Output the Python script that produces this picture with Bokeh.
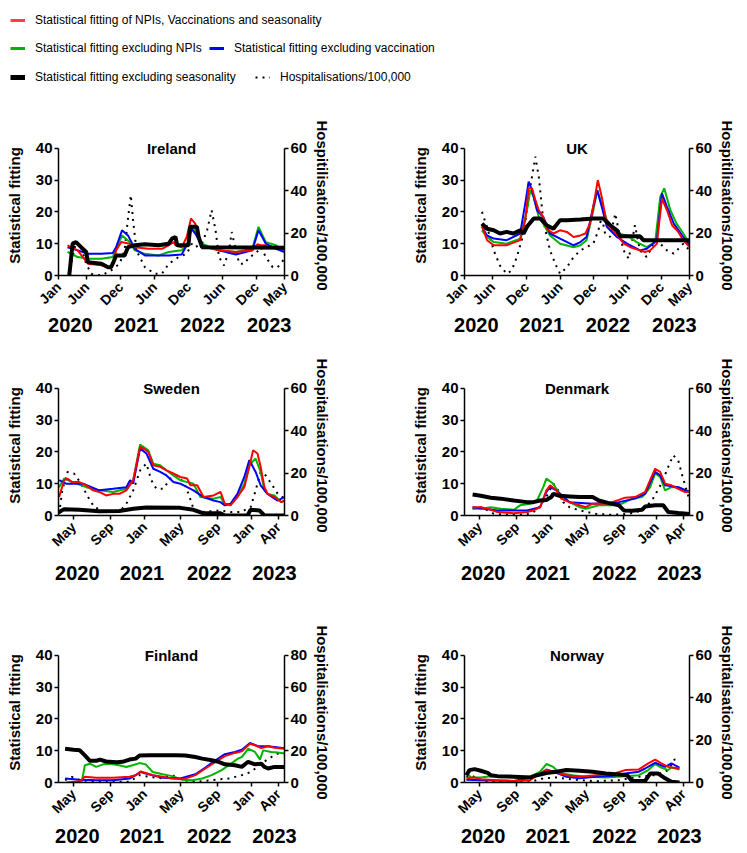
import math
from bokeh.plotting import figure
from bokeh.models import Range1d, LinearAxis, FixedTicker, Label, Legend, LegendItem
from bokeh.layouts import column, row
from bokeh.embed import file_html
from bokeh.resources import INLINE

FONT = "Liberation Sans"

# ---------------- data (x in months since Jan 2020) ----------------
# Ireland
irl_all_x = [1.6,3.4,5.2,7.6,8.75,9.6,10.2,11.1,12.6,13.5,15.9,18.3,19.5,20.4,20.7,21.8,22.7,23.45,24.2,25.1,26.0,28.4,31.4,34.3,35.2,35.8,36.7,37.3,40]
irl_all_y = [9.5,7.9,3.7,3.2,2.6,3.2,7.9,10.5,10.0,8.9,8.4,8.4,9.5,10.5,9.5,8.9,12.1,17.9,16.3,10.0,8.9,7.9,7.4,7.9,9.8,9.5,9.5,8.9,8.4]
irl_nonpi_x = [1.6,3.4,5.2,7.6,9.6,10.2,11.25,12.6,13.5,15.3,17.7,19.5,21.8,23.0,23.5,24.2,25.4,28.4,31.4,34.3,35.4,36.7,38.5,40]
irl_nonpi_y = [7.4,5.8,5.3,5.3,5.8,8.4,12.6,10.5,7.9,6.8,6.3,7.4,7.9,10.5,15.8,13.7,10.0,7.9,7.4,8.4,15.3,10.5,9.5,7.9]
irl_novac_x = [1.6,3.4,5.2,7.6,9.6,10.2,11.25,12.3,13.5,15.3,19.5,21.8,23.0,23.5,24.2,25.4,28.4,31.4,34.3,35.4,36.7,38.5,40]
irl_novac_y = [8.9,7.9,6.8,6.8,7.1,8.9,14.2,12.6,8.4,6.3,6.3,6.6,10.5,14.7,13.2,9.5,7.9,6.6,7.9,14.2,10.0,8.4,7.4]
irl_noseas_x = [1.9,2.5,3.1,4.0,4.9,5.2,7.6,8.75,9.3,9.6,10.2,11.7,12.3,13.5,15.3,17.7,19.5,20.1,20.7,21.0,23.0,23.3,24.5,24.8,25.4,40]
irl_noseas_y = [0,10,10.5,8.9,7.4,4.2,3.7,2.6,2.6,3.7,6.3,6.3,8.9,9.5,9.8,9.5,10,11.6,12.1,9.5,9.5,15.3,15.3,12.1,8.9,8.7]
irl_hosp_x = [1.9,2.5,3.1,4.0,4.9,5.8,7.6,9.3,10.8,11.7,12.2,12.8,13.2,13.8,15.3,17.1,18.3,19.5,21.25,22.7,23.6,24.2,25.4,26.3,27.1,27.8,28.4,29.3,30.2,30.65,31.4,32.0,32.9,33.75,34.9,35.8,36.7,37.9,38.8,40]
irl_hosp_y = [0,8.7,15.8,13.4,5.5,0.8,0,2.4,5.5,11.8,24.5,37.9,26,11.8,3.9,0.8,0.8,5.5,8.7,10.3,15,13.4,15,21.3,30.8,21.3,8.7,4.7,11.8,20.5,11.8,5.5,5.5,8.7,10.3,13.4,8.7,3.9,3.9,7.9]

# UK
uk_all_x = [3.1,4.0,5.2,7.5,9.9,10.8,11.4,12.0,12.6,13.2,14.0,14.6,15.8,17.0,18.2,19.4,20.6,21.5,22.3,23.2,23.7,24.4,25.3,26.5,27.4,28.3,29.5,31.2,32.1,33.0,34.2,35.1,36.0,36.9,38.0,38.9,40]
uk_all_y = [15.8,11.1,9.5,9.5,11.1,17.4,27.4,27.4,23.7,20.5,18.4,14.7,13.2,14.2,13.7,12.1,12.6,13.2,16.3,24.7,30.0,24.7,16.3,14.2,12.1,10.0,8.9,7.9,7.4,7.9,10.0,24.2,20.5,15.8,13.7,11.1,8.9]
uk_nonpi_x = [3.1,4.0,5.2,7.5,9.9,11.1,11.7,12.3,13.2,14.0,15.2,17.0,19.4,20.6,21.7,22.9,23.6,24.4,25.3,27.1,28.9,30.6,32.4,33.9,34.8,35.5,36.6,37.7,38.9,40]
uk_nonpi_y = [14.2,12.1,10.5,10.0,11.6,20.5,26.8,24.7,18.4,16.3,12.6,10.0,8.9,9.5,11.1,20.5,26.8,22.6,17.4,13.2,12.6,10.5,8.9,10.5,24.7,27.4,20.5,16.3,13.2,10.0]
uk_novac_x = [3.1,4.0,5.2,7.5,9.9,10.8,11.4,12.0,12.9,14.0,15.2,17.0,19.4,20.6,21.7,22.9,23.6,24.4,25.3,27.1,28.9,31.2,32.4,34.2,35.1,36.0,37.2,38.9,40]
uk_novac_y = [15.3,12.6,11.6,11.1,13.2,22.6,29.5,26.8,20.5,18.4,13.2,11.6,9.5,10.5,12.1,21.6,26.8,21.6,15.3,12.1,10.0,7.9,8.4,11.1,25.8,21.6,16.3,12.1,9.5]
uk_noseas_x = [3.1,4.0,5.2,6.3,7.5,8.7,9.9,10.5,11.1,12.3,13.5,14.6,15.8,17.0,18.2,20.6,22.9,24.7,25.9,27.1,27.7,31.2,31.8,40]
uk_noseas_y = [16.3,14.7,14.2,13.2,13.7,13.2,14.2,13.2,15.3,17.9,17.9,15.8,14.7,17.4,17.4,17.6,17.9,17.9,15.8,14.2,12.3,12.3,11.1,11.1]
uk_hosp_x = [3.1,4.0,5.2,6.3,7.5,8.4,9.3,10.5,11.7,12.6,13.2,14.0,15.2,16.4,17.0,18.2,19.4,20.6,21.7,22.9,23.8,24.4,25.0,25.9,26.8,27.4,28.3,29.2,30.3,31.2,32.4,33.9,34.8,36.0,37.2,38.9,40]
uk_hosp_y = [30.0,22.9,11.8,4.7,0.8,2.4,8.7,19.7,41.8,56.0,46.6,26.0,11.8,3.9,0.8,3.9,8.7,11.8,13.4,15.0,21.3,27.6,19.7,18.2,29.2,21.3,11.8,7.9,23.7,11.8,8.7,16.6,15.0,11.8,10.3,15.0,11.8]

# Sweden
swe_all_x = [3.1,3.9,4.4,5.2,6.3,7.4,8.5,9.5,10.6,11.7,12.7,13.8,14.9,16.0,16.5,17.3,18.1,19.2,20.2,21.3,22.4,23.5,24.0,25.1,26.1,27.7,28.8,29.5,30.4,31.5,32.6,33.4,34.0,34.7,35.2,35.8,36.3,37.4,38.5,39.0]
swe_all_y = [5.8,11.1,11.6,10.5,10.5,9.5,7.9,7.4,6.3,6.8,6.8,7.9,11.1,21.6,21.1,20.0,15.8,15.3,14.2,13.2,12.1,11.6,9.5,9.5,5.8,6.3,7.4,3.7,3.2,5.8,8.9,15.3,20.5,19.5,15.3,8.9,6.8,5.8,4.2,4.7]
swe_nonpi_x = [3.1,3.9,5.2,7.4,9.5,11.7,13.8,14.9,16.0,17.3,18.1,19.2,20.2,21.3,22.4,23.5,24.5,25.6,27.7,28.8,29.5,30.4,31.5,32.6,33.4,34.4,35.2,35.8,36.3,37.4,38.5,39.0]
swe_nonpi_y = [8.9,11.6,10.5,8.9,7.9,7.4,8.4,11.1,22.3,20.5,16.3,15.8,14.2,12.6,11.1,10.5,10.0,5.8,5.3,5.8,3.5,3.5,5.8,10.0,15.8,17.9,13.7,7.9,6.8,6.3,4.2,4.7]
swe_novac_x = [3.1,4.2,6.9,9.5,11.7,13.8,14.4,14.9,16.0,17.0,18.1,19.2,20.2,21.3,22.4,23.5,24.5,26.1,27.7,28.8,29.5,30.4,31.5,32.6,33.4,34.4,35.2,36.3,37.9,39.0]
swe_novac_y = [11.1,10.0,10.0,7.9,8.4,8.9,11.1,10.0,21.1,19.5,14.7,13.7,12.6,10.5,10.0,8.9,7.9,5.8,4.7,4.2,3.2,3.7,6.8,12.1,17.4,13.7,9.5,6.8,4.7,5.8]
swe_noseas_x = [3.1,3.9,6.3,9.5,12.7,14.9,17.0,22.4,24.5,26.1,28.8,29.5,33.1,33.6,35.0,35.8,39.0]
swe_noseas_y = [1.1,2.0,1.8,1.3,1.4,2.1,2.5,2.4,1.8,0.7,0.7,0,0,1.8,1.6,0,0]
swe_hosp_x = [3.1,3.6,4.4,5.5,6.6,7.7,8.7,10.6,12.7,13.8,14.9,16.0,17.0,17.8,18.6,19.7,20.8,21.9,22.9,23.7,24.5,25.6,28.8,30.4,32.0,33.6,34.4,35.2,36.0,36.9,37.9,39.0]
swe_hosp_y = [0.8,11.8,20.5,19.7,15.0,8.7,3.9,1.6,1.6,5.5,11.8,21.3,24.5,16.6,12.6,12.6,17.4,18.9,15.8,10.3,3.2,1.6,2.4,1.6,1.6,3.9,11.8,20.5,18.9,15.0,10.3,7.9]

# Denmark
den_all_x = [4.3,5.6,6.7,8.3,10.9,13.0,14.0,15.1,16.1,16.7,17.7,18.5,19.8,21.4,22.4,23.5,25.6,26.6,27.7,28.7,30.3,31.9,32.7,33.5,34.3,35.1,36.1,37.2,38.2,39.0]
den_all_y = [2.6,2.6,2.1,1.1,0.7,1.1,1.6,2.6,7.9,9.5,7.9,5.3,4.2,3.2,2.6,3.7,3.7,4.2,4.9,5.6,5.8,7.4,11.1,14.7,13.7,10.0,9.5,8.4,7.4,7.4]
den_nonpi_x = [4.3,5.6,7.2,8.8,10.9,11.9,13.5,14.6,15.6,16.1,17.2,17.7,18.5,19.8,21.4,22.4,24.5,26.6,28.2,29.8,31.4,31.9,32.7,33.5,34.3,35.1,36.1,37.2,39.0]
den_nonpi_y = [2.1,2.1,2.6,2.1,1.8,3.2,3.7,4.7,8.9,11.6,10.0,8.4,5.3,4.2,2.6,2.1,3.2,3.2,3.7,5.3,5.8,6.8,8.9,13.2,12.1,7.9,8.9,8.9,7.4]
den_novac_x = [4.3,8.3,13.0,15.1,16.1,16.7,17.7,19.8,23.5,27.7,30.3,31.9,33.5,34.3,35.1,37.2,39.0]
den_novac_y = [2.6,1.6,1.6,2.6,7.4,8.9,7.9,4.2,3.7,4.2,5.3,6.8,13.7,12.6,9.5,8.9,7.4]
den_noseas_x = [4.3,5.6,7.2,8.8,10.9,13.0,14.0,15.1,16.1,16.9,17.2,18.2,19.8,21.4,23.5,24.5,26.1,27.7,28.5,29.8,31.4,31.9,33.5,34.8,35.6,37.2,39.0]
den_noseas_y = [6.6,6.2,5.6,5.3,4.7,4.2,4.2,4.7,4.9,5.8,6.8,6.2,6.0,5.8,5.8,4.7,3.9,3.2,1.6,1.5,1.8,2.8,3.2,3.2,1.1,0.8,0.5]
den_hosp_x = [4.3,5.6,6.7,7.7,9.8,13.0,14.6,16.1,17.2,18.0,18.8,19.8,21.4,24.0,26.6,29.3,31.4,33.0,34.5,35.6,36.4,37.2,37.9,38.7,39.0]
den_hosp_y = [3.2,3.9,2.4,0.8,0.3,0.5,2.4,8.7,15.0,11.8,6.3,3.9,2.4,0.8,0.3,0.8,2.4,7.1,15.0,22.9,28.4,26.0,18.2,10.3,7.1]

# Finland
fin_all_x = [4.3,6.4,7.2,9.0,11.7,14.3,15.3,16.1,16.9,18.0,19.6,21.1,22.7,23.8,24.8,26.4,28.0,29.5,31.1,32.2,33.5,34.3,35.3,36.4,37.4,39.0]
fin_all_y = [0,0.4,1.8,1.5,1.5,1.8,2.3,3.5,3.0,2.3,1.8,1.25,1.0,1.6,2.3,4.4,6.5,8.3,9.3,9.8,12.2,11.7,10.8,11.4,10.9,10.6]
fin_nonpi_x = [6.7,7.2,8.0,9.0,10.1,11.1,12.7,13.8,14.8,15.9,16.9,18.0,19.6,21.1,22.7,24.3,25.9,27.4,29.0,30.6,31.6,32.2,33.2,34.3,35.1,35.6,36.9,37.9,39.0]
fin_nonpi_y = [0.2,5.4,5.9,4.9,5.7,5.9,5.4,4.9,5.4,6.1,5.7,3.3,2.6,2.0,0.9,0.7,1.25,2.3,3.9,6.1,7.5,8.0,10.6,9.6,7.2,10.1,9.6,9.4,9.1]
fin_novac_x = [4.05,6.4,9.0,11.7,14.3,15.3,16.1,16.9,19.6,22.4,24.8,26.4,28.0,29.5,31.1,32.2,33.5,34.8,36.4,39.0]
fin_novac_y = [1.25,0.9,0.7,0.7,1.25,2.3,3.3,2.8,1.5,1.25,2.6,4.7,7.0,8.9,9.6,10.3,12.4,11.4,11.4,10.8]
fin_noseas_x = [4.05,5.4,6.4,7.2,8.0,9.0,9.6,10.6,12.2,13.2,14.3,15.3,15.9,17.5,19.6,21.7,23.2,24.8,25.9,27.4,28.5,29.5,31.1,32.2,33.2,34.3,35.3,35.8,36.4,37.4,39.0]
fin_noseas_y = [10.6,10.3,10.1,8.5,6.8,6.8,7.2,6.6,6.4,6.5,7.2,7.5,8.5,8.6,8.6,8.6,8.5,8.0,7.5,7.0,6.5,5.7,5.4,4.9,6.5,5.7,5.9,4.9,4.4,4.9,4.9]
fin_hosp_x = [4.05,5.1,6.4,9.0,14.3,15.9,17.5,19.6,21.1,22.7,24.8,27.4,30.1,32.2,33.7,35.3,36.9,37.9,39.0]
fin_hosp_y = [1.5,3.5,1.5,0.4,0.4,4.6,3.5,2.5,4.6,1.5,0.4,1.5,2.5,4.6,6.7,11.9,16.0,18.1,18.5]

# Norway
nor_all_x = [3.3,4.6,5.6,8.3,10.9,13.5,14.6,16.1,17.2,19.3,21.4,24.0,26.6,28.7,30.9,32.4,33.5,34.5,35.6,37.4]
nor_all_y = [1.3,1.6,1.0,0.7,0.5,0.7,2.3,3.9,3.4,2.3,1.8,2.3,2.6,3.9,4.1,6.0,7.2,6.0,4.9,4.4]
nor_nonpi_x = [3.3,4.05,5.6,7.2,9.8,13.5,15.1,16.1,17.2,18.2,20.3,22.4,25.6,28.7,30.9,32.4,33.5,34.5,35.6,36.1,37.4]
nor_nonpi_y = [3.0,1.6,1.6,2.0,1.8,1.8,3.4,5.8,4.9,3.0,2.3,1.8,1.6,2.0,2.3,3.9,5.8,4.7,3.9,4.7,4.1]
nor_novac_x = [3.3,5.6,10.9,14.6,16.1,17.2,19.3,21.4,24.0,26.6,28.7,30.9,31.9,33.5,35.1,36.1,37.4]
nor_novac_y = [0.9,0.7,0.5,2.0,4.1,3.4,1.8,1.3,1.8,2.1,2.8,3.4,4.4,6.2,4.9,6.0,4.7]
nor_noseas_x = [3.3,3.8,4.6,5.6,6.7,7.2,8.3,10.9,13.5,14.6,16.1,17.7,19.3,21.4,23.5,25.6,27.7,29.0,29.8,31.9,32.7,34.0,35.1,36.1,37.4]
nor_noseas_y = [2.3,3.9,4.2,3.7,3.0,2.3,2.0,1.8,1.6,2.3,3.0,3.4,3.9,3.7,3.4,2.8,2.5,2.3,0.5,0.5,2.8,2.8,1.3,0.2,0]
nor_hosp_x = [3.3,4.05,5.6,8.3,13.5,15.6,17.7,20.3,24.0,27.7,30.9,33.5,35.6,36.6,37.4]
nor_hosp_y = [2.7,3.5,0.8,0.3,0.3,1.9,2.4,1.4,0.6,1.1,2.7,3.5,5.8,10.8,10.2]

# ticks
irl_tick_pos = [0, 5, 11, 17, 23, 29, 35, 40]
irl_tick_lab = ["Jan", "Jun", "Dec", "Jun", "Dec", "Jun", "Dec", "May"]
nor_tick_pos = [5.4, 11.35, 16.7, 22.5, 28.4, 33.7, 38.0]
nor_tick_lab = ["May", "Sep", "Jan", "May", "Sep", "Jan", "Apr"]
year_lab = ["2020", "2021", "2022", "2023"]
irl_year_pos = [2.1, 13.75, 25.5, 37.3]
nor_year_pos = [6.0, 16.3, 27.0, 37.4]
left_ticks = [0, 10, 20, 30, 40]
hosp60_ticks = [0, 20, 40, 60]
hosp80_ticks = [0, 20, 40, 60, 80]

RED, GREEN, BLUE, BLACK = "#FF0000", "#00B400", "#0000FF", "#000000"
HEAD = 1.1  # extra head-room above the 40 line for the panel title


def style_axis(ax, size="15px"):
    ax.axis_line_color = "black"
    ax.axis_line_width = 1.5
    ax.major_tick_line_color = "black"
    ax.major_tick_line_width = 1.5
    ax.major_tick_out = 4
    ax.major_tick_in = 0
    ax.minor_tick_line_color = None
    ax.major_label_standoff = 2
    ax.major_label_text_font = FONT
    ax.major_label_text_font_size = size
    ax.major_label_text_font_style = "bold"
    ax.major_label_text_color = "black"
    ax.axis_label_text_font = FONT
    ax.axis_label_text_font_size = "15px"
    ax.axis_label_text_font_style = "bold"
    ax.axis_label_text_color = "black"


def panel(title, xr, tpos, tlab, ypos, hosp_max, hosp_ticks, hosp_label, series,
          width, height, left, right, top, bottom, year_standoff):
    p = figure(width=width, height=height, x_range=Range1d(*xr), y_range=Range1d(0, 40 * HEAD),
               output_backend="svg", toolbar_location=None,
               min_border_left=left, min_border_right=right,
               min_border_top=top, min_border_bottom=bottom)
    p.extra_y_ranges = {"hosp": Range1d(0, hosp_max * HEAD)}
    p.grid.visible = False
    p.outline_line_color = None
    (hx, hy), (gx, gy), (bx, by), (rx, ry), (kx, ky) = series
    p.line(hx, hy, y_range_name="hosp", color=BLACK, line_width=2, line_dash="2 5")
    p.line(gx, gy, color=GREEN, line_width=2)
    p.line(bx, by, color=BLUE, line_width=2)
    p.line(rx, ry, color=RED, line_width=2)
    p.line(kx, ky, color=BLACK, line_width=4)

    xa = p.xaxis[0]
    style_axis(xa, "14px")
    xa.ticker = FixedTicker(ticks=tpos)
    xa.major_label_overrides = {t: l for t, l in zip(tpos, tlab)}
    xa.major_label_orientation = math.pi / 4
    xa.major_label_standoff = 5

    ya_ = LinearAxis(ticker=FixedTicker(ticks=ypos),
                     major_label_overrides={t: l for t, l in zip(ypos, year_lab)})
    style_axis(ya_, "20px")
    ya_.axis_line_color = None
    ya_.major_tick_line_color = None
    ya_.major_label_standoff = year_standoff
    p.add_layout(ya_, "below")

    la = p.yaxis[0]
    style_axis(la)
    la.ticker = FixedTicker(ticks=left_ticks)
    la.bounds = (0, 40)
    la.axis_label = "Statistical fitting"
    la.axis_label_standoff = 10

    ra = LinearAxis(y_range_name="hosp", ticker=FixedTicker(ticks=hosp_ticks),
                    axis_label=hosp_label, bounds=(0, hosp_max))
    style_axis(ra)
    ra.axis_label_standoff = 4
    p.add_layout(ra, "right")

    p.add_layout(Label(x=(xr[0] + xr[1]) / 2, y=40, text=title, text_align="center",
                       text_baseline="middle", text_font=FONT, text_font_size="15px",
                       text_font_style="bold", text_color="black"))
    return p


LW, RW = 375, 372
H0, H1, H2, H3 = 95, 250, 245, 262

p_irl = panel("Ireland", (0, 40), irl_tick_pos, irl_tick_lab, irl_year_pos, 60, hosp60_ticks,
              "Hospitilisations/100,000",
              [(irl_hosp_x, irl_hosp_y), (irl_nonpi_x, irl_nonpi_y), (irl_novac_x, irl_novac_y),
               (irl_all_x, irl_all_y), (irl_noseas_x, irl_noseas_y)],
              LW, H1, 58, 91, 40, 70, -5)
p_uk = panel("UK", (0, 40), irl_tick_pos, irl_tick_lab, irl_year_pos, 60, hosp60_ticks,
             "Hospitilisations/100,000",
             [(uk_hosp_x, uk_hosp_y), (uk_nonpi_x, uk_nonpi_y), (uk_novac_x, uk_novac_y),
              (uk_all_x, uk_all_y), (uk_noseas_x, uk_noseas_y)],
             RW, H1, 89, 58, 40, 70, -5)
p_swe = panel("Sweden", (3, 39), nor_tick_pos, nor_tick_lab, nor_year_pos, 60, hosp60_ticks,
              "Hospitalisations/100,000",
              [(swe_hosp_x, swe_hosp_y), (swe_nonpi_x, swe_nonpi_y), (swe_novac_x, swe_novac_y),
               (swe_all_x, swe_all_y), (swe_noseas_x, swe_noseas_y)],
              LW, H2, 58, 91, 30, 75, 3)
p_den = panel("Denmark", (3, 39), nor_tick_pos, nor_tick_lab, nor_year_pos, 60, hosp60_ticks,
              "Hospitalisations/100,000",
              [(den_hosp_x, den_hosp_y), (den_nonpi_x, den_nonpi_y), (den_novac_x, den_novac_y),
               (den_all_x, den_all_y), (den_noseas_x, den_noseas_y)],
              RW, H2, 89, 58, 30, 75, 3)
p_fin = panel("Finland", (3, 39), nor_tick_pos, nor_tick_lab, nor_year_pos, 80, hosp80_ticks,
              "Hospitalisations/100,000",
              [(fin_hosp_x, fin_hosp_y), (fin_nonpi_x, fin_nonpi_y), (fin_novac_x, fin_novac_y),
               (fin_all_x, fin_all_y), (fin_noseas_x, fin_noseas_y)],
              LW, H3, 58, 91, 52, 70, -1)
p_nor = panel("Norway", (3, 39), nor_tick_pos, nor_tick_lab, nor_year_pos, 60, hosp60_ticks,
              "Hospitalisations/100,000",
              [(nor_hosp_x, nor_hosp_y), (nor_nonpi_x, nor_nonpi_y), (nor_novac_x, nor_novac_y),
               (nor_all_x, nor_all_y), (nor_noseas_x, nor_noseas_y)],
              RW, H3, 89, 58, 52, 70, -1)

# ---------------- legend strip ----------------
legend_labels = ["Statistical fitting of NPIs, Vaccinations and seasonality",
                 "Statistical fitting excluding NPIs",
                 "Statistical fitting excluding vaccination",
                 "Statistical fitting excluding seasonality",
                 "Hospitalisations/100,000"]
lf = figure(width=LW + RW, height=H0, x_range=Range1d(0, 1), y_range=Range1d(0, 1),
            x_axis_type=None, y_axis_type=None, output_backend="svg",
            toolbar_location=None, min_border=0)
lf.grid.visible = False
lf.outline_line_color = None
off = [5, 6]  # swatch renderers kept outside the visible range
r1 = lf.line(off, off, color=RED, line_width=3, alpha=0.75)
r2 = lf.line(off, off, color=GREEN, line_width=3)
r3 = lf.line(off, off, color=BLUE, line_width=3)
r4 = lf.line(off, off, color=BLACK, line_width=5)
r5 = lf.line(off, off, color=BLACK, line_width=2, line_dash="2 5")
leg_spec = [(r1, legend_labels[0], 10, 67), (r2, legend_labels[1], 10, 39),
            (r3, legend_labels[2], 209, 39), (r4, legend_labels[3], 10, 10),
            (r5, legend_labels[4], 255, 10)]
for rend, lab, lx, ly in leg_spec:
    lg = Legend(items=[LegendItem(label=lab, renderers=[rend])], location=(lx, ly),
                orientation="horizontal", label_text_font=FONT, label_text_font_size="12px",
                label_text_color="black", glyph_width=15, glyph_height=16, label_standoff=10,
                padding=0, margin=0, spacing=0, border_line_color=None,
                background_fill_alpha=0)
    lf.add_layout(lg)

layout = column(lf, row(p_irl, p_uk), row(p_swe, p_den), row(p_fin, p_nor))
open("out.html", "w").write(file_html(layout, INLINE))
